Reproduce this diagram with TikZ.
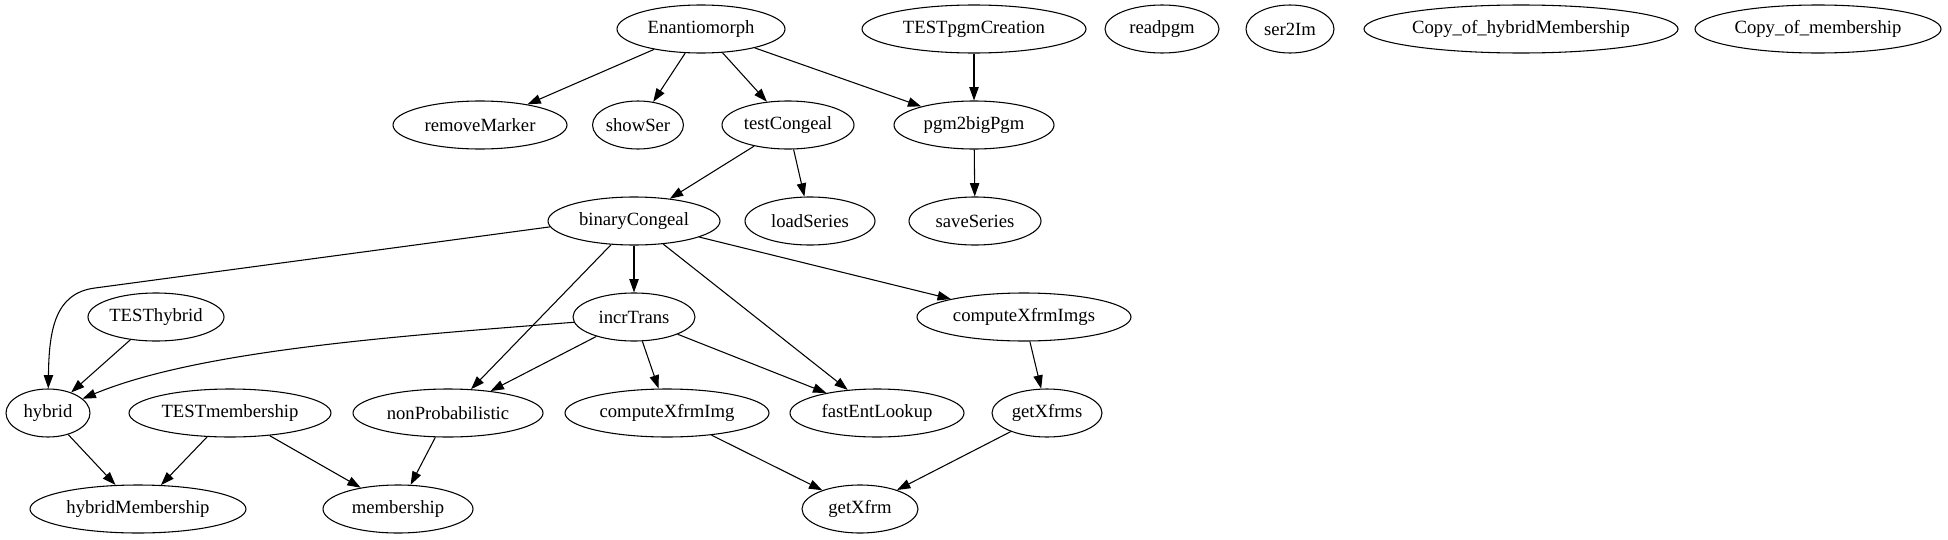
\documentclass[tikz,border=0pt]{standalone}
\usepackage{fontspec}
\setmainfont{Liberation Serif}
\usetikzlibrary{shapes.geometric,arrows.meta}
\tikzset{
  gnode/.style={ellipse, draw, line width=0.8pt, minimum height=36pt, inner sep=0pt,
    font=\fontsize{14pt}{16pt}\selectfont},
  edge/.style={line width=0.8pt, -{Triangle[length=10pt,width=7pt]}}
}
\begin{document}
\begin{tikzpicture}[x=0.75pt,y=-0.75pt]
\useasboundingbox (0,0) rectangle (1948,539);
% row 1
\node[gnode,minimum width=126pt] (E) at (701,29) {Enantiomorph};
\node[gnode,minimum width=168pt] (TPC) at (974,29) {TESTpgmCreation};
\node[gnode,minimum width=85.5pt] (RP) at (1162,29) {readpgm};
\node[gnode,minimum width=66pt] (S2I) at (1290,29) {ser2Im};
\node[gnode,minimum width=235.5pt] (CHM) at (1521,29) {Copy\_of\_hybridMembership};
\node[gnode,minimum width=184.5pt] (CM) at (1818,29) {Copy\_of\_membership};
% row 2
\node[gnode,minimum width=130.5pt] (RM) at (480,125) {removeMarker};
\node[gnode,minimum width=67.5pt] (SS) at (638,125) {showSer};
\node[gnode,minimum width=99pt] (TC) at (788,125) {testCongeal};
\node[gnode,minimum width=120pt] (PBP) at (974,125) {pgm2bigPgm};
% row 3
\node[gnode,minimum width=129pt] (BC) at (634,221) {binaryCongeal};
\node[gnode,minimum width=97.5pt] (LS) at (810,221) {loadSeries};
\node[gnode,minimum width=99pt] (SVS) at (975,221) {saveSeries};
% row 4
\node[gnode,minimum width=102pt] (TH) at (156,317) {TESThybrid};
\node[gnode,minimum width=91.5pt] (IT) at (634,317) {incrTrans};
\node[gnode,minimum width=160.5pt] (CXIs) at (1024,317) {computeXfrmImgs};
% row 5
\node[gnode,minimum width=63pt] (HY) at (48,413) {hybrid};
\node[gnode,minimum width=151.5pt] (TM) at (230,413) {TESTmembership};
\node[gnode,minimum width=142.5pt] (NP) at (448,413) {nonProbabilistic};
\node[gnode,minimum width=153pt] (CXI) at (667,413) {computeXfrmImg};
\node[gnode,minimum width=130.5pt] (FEL) at (877,413) {fastEntLookup};
\node[gnode,minimum width=82.5pt] (GXs) at (1047,413) {getXfrms};
% row 6
\node[gnode,minimum width=162pt] (HM) at (138,509) {hybridMembership};
\node[gnode,minimum width=112.5pt] (MB) at (398,509) {membership};
\node[gnode,minimum width=87pt] (GX) at (860,509) {getXfrm};
% edges
\draw[edge] (E) -- (RM);
\draw[edge] (E) -- (SS);
\draw[edge] (E) -- (TC);
\draw[edge] (E) -- (PBP);
\draw[edge] (TPC) -- (PBP);
\draw[edge] (PBP) -- (SVS);
\draw[edge] (TC) -- (BC);
\draw[edge] (TC) -- (LS);
\draw[edge] (BC.184) -- (95,288) .. controls (55,293) and (49,330) .. (HY);
\draw[edge] (BC) -- (IT);
\draw[edge] (BC) -- (NP);
\draw[edge] (BC) -- (FEL);
\draw[edge] (BC) -- (CXIs);
\draw[edge] (TH) -- (HY);
\draw[edge] (IT.185) .. controls (400,336) and (200,350) .. (HY);
\draw[edge] (IT) -- (NP);
\draw[edge] (IT) -- (CXI);
\draw[edge] (IT) -- (FEL);
\draw[edge] (CXIs) -- (GXs);
\draw[edge] (HY) -- (HM);
\draw[edge] (TM) -- (HM);
\draw[edge] (TM) -- (MB);
\draw[edge] (NP) -- (MB);
\draw[edge] (CXI) -- (GX);
\draw[edge] (GXs) -- (GX);
\end{tikzpicture}
\end{document}
